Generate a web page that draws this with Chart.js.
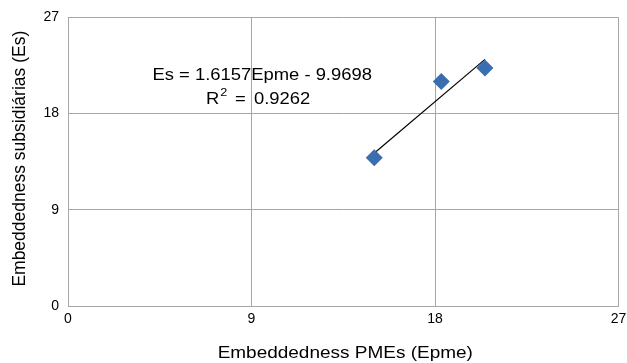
<!DOCTYPE html>
<html>
<head>
<meta charset="utf-8">
<script src="https://cdn.jsdelivr.net/npm/chart.js@4.4.1/dist/chart.umd.min.js"></script>
<style>
  html, body { margin: 0; padding: 0; background: #fff; }
  #wrap { width: 627px; height: 363px; position: relative; }
</style>
</head>
<body>
<div id="wrap"><canvas id="c"></canvas></div>
<script>
// ---------- Data ----------
const epme = [15.02, 18.31, 20.45];
const es = [13.87, 21.0, 22.27];
const trendX = [15.0, 20.45];
const trendY = [14.26, 23.07];
const ticks = [0, 9, 18, 27];
const eqText = "Es = 1.6157Epme - 9.9698";
const r2Text = "0.9262";
const xTitle = "Embeddedness PMEs (Epme)";
const yTitle = "Embeddedness subsidiárias (Es)";

const FONT = "'Liberation Sans', Arial, Helvetica, sans-serif";
const GRID = "#a6a6a6";
const STRETCH = 1.15; // text in the reference is a bit wide

function wideText(ctx, txt, x, y, align) {
  ctx.save();
  ctx.translate(x, y);
  ctx.scale(STRETCH, 1);
  ctx.textAlign = align || "left";
  ctx.fillText(txt, 0, 0);
  ctx.restore();
}

// ---------- Titles + equation label ----------
const labels = {
  id: "labels",
  afterDatasetsDraw(chart) {
    const { ctx, chartArea: a } = chart;
    ctx.save();
    ctx.fillStyle = "#000";
    ctx.textBaseline = "alphabetic";

    // axis titles
    ctx.font = "16.5px " + FONT;
    wideText(ctx, xTitle, (a.left + a.right) / 2 + 2, 358, "center");
    ctx.save();
    ctx.font = "17.5px " + FONT;
    ctx.translate(25, (a.top + a.bottom) / 2 - 3);
    ctx.rotate(-Math.PI / 2);
    ctx.textAlign = "center";
    ctx.fillText(yTitle, 0, 0);
    ctx.restore();

    // trendline equation
    ctx.font = "16px " + FONT;
    wideText(ctx, eqText, 152.5, 80);
    wideText(ctx, "R", 206, 104);
    const rw = ctx.measureText("R").width * STRETCH;
    ctx.font = "11px " + FONT;
    wideText(ctx, "2", 206 + rw + 1, 96);
    ctx.font = "16px " + FONT;
    wideText(ctx, "=", 235, 104);
    wideText(ctx, r2Text, 254, 104);
    ctx.restore();
  }
};

new Chart(document.getElementById("c"), {
  type: "scatter",
  data: {
    datasets: [
      {
        data: epme.map((v, i) => ({ x: v, y: es[i] })),
        pointStyle: "rectRot",
        pointRadius: 8.5,
        pointHoverRadius: 8.5,
        backgroundColor: "#3a6eb0",
        borderColor: "#3a6eb0",
        borderWidth: 0
      },
      {
        type: "line",
        data: trendX.map((v, i) => ({ x: v, y: trendY[i] })),
        borderColor: "#000",
        borderWidth: 1.2,
        pointRadius: 0,
        fill: false
      }
    ]
  },
  options: {
    responsive: true,
    maintainAspectRatio: false,
    animation: false,
    layout: { padding: { top: 16, right: 0, left: 0, bottom: 0 } },
    plugins: { legend: { display: false }, tooltip: { enabled: false } },
    scales: {
      x: {
        type: "linear", min: 0, max: 27,
        afterBuildTicks: s => { s.ticks = ticks.map(v => ({ value: v })); },
        afterFit: s => { s.height = 57; s.paddingLeft = 0; s.paddingRight = 7; },
        grid: { color: GRID, lineWidth: 1, drawTicks: false },
        border: { color: GRID },
        ticks: { color: "#000", font: { family: FONT, size: 14 }, padding: 5 }
      },
      y: {
        type: "linear", min: 0, max: 27,
        afterBuildTicks: s => { s.ticks = ticks.map(v => ({ value: v })); },
        afterFit: s => { s.width = 68; },
        grid: { color: GRID, lineWidth: 1, drawTicks: false },
        border: { color: GRID },
        ticks: { color: "#000", font: { family: FONT, size: 14 }, padding: 9 }
      }
    }
  },
  plugins: [labels]
});
</script>
</body>
</html>
